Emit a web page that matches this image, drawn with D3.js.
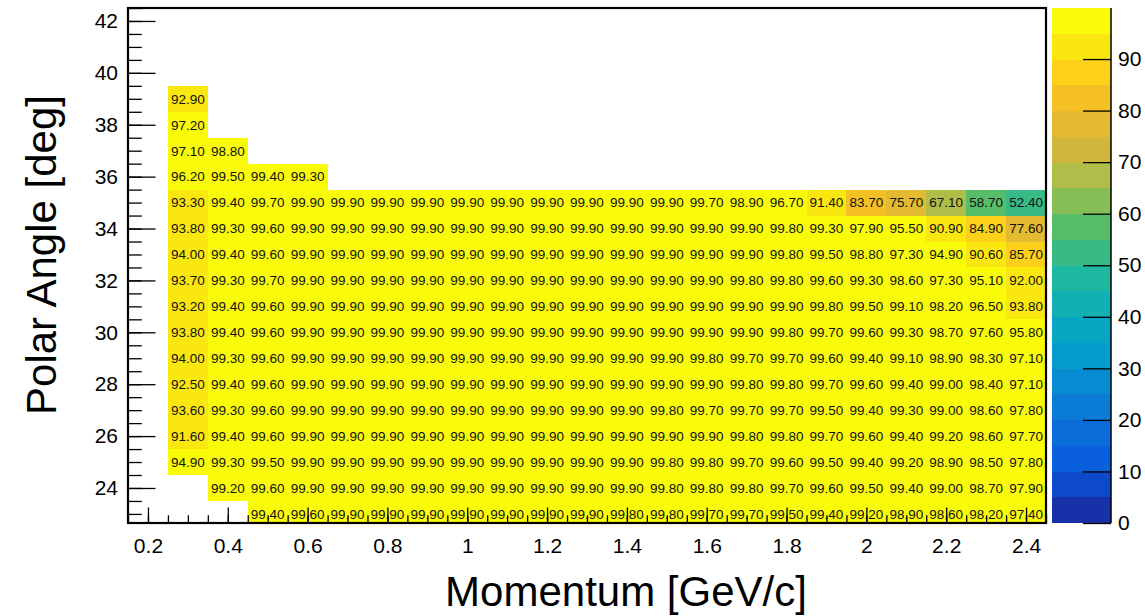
<!DOCTYPE html>
<html>
<head>
<meta charset="utf-8">
<script src="https://cdn.jsdelivr.net/npm/d3@7"></script>
<style>
  body { margin: 0; background: #fff; }
  svg { display: block; }
  text { font-family: "Liberation Sans", Arial, Helvetica, sans-serif; }
</style>
</head>
<body>
<svg id="chart" width="1145" height="616"></svg>
<script>
// Momentum bin centres [GeV/c] (bin width 0.1)
const momentum = [0.3, 0.4, 0.5, 0.6, 0.7, 0.8, 0.9, 1.0, 1.1, 1.2, 1.3,
                  1.4, 1.5, 1.6, 1.7, 1.8, 1.9, 2.0, 2.1, 2.2, 2.3, 2.4];

// Efficiency [%] per polar-angle row, one entry per momentum bin (null = empty bin)
const eff39 = [92.90, null, null, null, null, null, null, null, null, null, null,
               null, null, null, null, null, null, null, null, null, null, null];
const eff38 = [97.20, null, null, null, null, null, null, null, null, null, null,
               null, null, null, null, null, null, null, null, null, null, null];
const eff37 = [97.10, 98.80, null, null, null, null, null, null, null, null, null,
               null, null, null, null, null, null, null, null, null, null, null];
const eff36 = [96.20, 99.50, 99.40, 99.30, null, null, null, null, null, null, null,
               null, null, null, null, null, null, null, null, null, null, null];
const eff35 = [93.30, 99.40, 99.70, 99.90, 99.90, 99.90, 99.90, 99.90, 99.90, 99.90, 99.90,
               99.90, 99.90, 99.70, 98.90, 96.70, 91.40, 83.70, 75.70, 67.10, 58.70, 52.40];
const eff34 = [93.80, 99.30, 99.60, 99.90, 99.90, 99.90, 99.90, 99.90, 99.90, 99.90, 99.90,
               99.90, 99.90, 99.90, 99.90, 99.80, 99.30, 97.90, 95.50, 90.90, 84.90, 77.60];
const eff33 = [94.00, 99.40, 99.60, 99.90, 99.90, 99.90, 99.90, 99.90, 99.90, 99.90, 99.90,
               99.90, 99.90, 99.90, 99.90, 99.80, 99.50, 98.80, 97.30, 94.90, 90.60, 85.70];
const eff32 = [93.70, 99.30, 99.70, 99.90, 99.90, 99.90, 99.90, 99.90, 99.90, 99.90, 99.90,
               99.90, 99.90, 99.90, 99.80, 99.80, 99.60, 99.30, 98.60, 97.30, 95.10, 92.00];
const eff31 = [93.20, 99.40, 99.60, 99.90, 99.90, 99.90, 99.90, 99.90, 99.90, 99.90, 99.90,
               99.90, 99.90, 99.90, 99.90, 99.90, 99.80, 99.50, 99.10, 98.20, 96.50, 93.80];
const eff30 = [93.80, 99.40, 99.60, 99.90, 99.90, 99.90, 99.90, 99.90, 99.90, 99.90, 99.90,
               99.90, 99.90, 99.90, 99.90, 99.80, 99.70, 99.60, 99.30, 98.70, 97.60, 95.80];
const eff29 = [94.00, 99.30, 99.60, 99.90, 99.90, 99.90, 99.90, 99.90, 99.90, 99.90, 99.90,
               99.90, 99.90, 99.80, 99.70, 99.70, 99.60, 99.40, 99.10, 98.90, 98.30, 97.10];
const eff28 = [92.50, 99.40, 99.60, 99.90, 99.90, 99.90, 99.90, 99.90, 99.90, 99.90, 99.90,
               99.90, 99.90, 99.90, 99.80, 99.80, 99.70, 99.60, 99.40, 99.00, 98.40, 97.10];
const eff27 = [93.60, 99.30, 99.60, 99.90, 99.90, 99.90, 99.90, 99.90, 99.90, 99.90, 99.90,
               99.90, 99.80, 99.70, 99.70, 99.70, 99.50, 99.40, 99.30, 99.00, 98.60, 97.80];
const eff26 = [91.60, 99.40, 99.60, 99.90, 99.90, 99.90, 99.90, 99.90, 99.90, 99.90, 99.90,
               99.90, 99.90, 99.90, 99.80, 99.80, 99.70, 99.60, 99.40, 99.20, 98.60, 97.70];
const eff25 = [94.90, 99.30, 99.50, 99.90, 99.90, 99.90, 99.90, 99.90, 99.90, 99.90, 99.90,
               99.90, 99.80, 99.80, 99.70, 99.60, 99.50, 99.40, 99.20, 98.90, 98.50, 97.80];
const eff24 = [null, 99.20, 99.60, 99.90, 99.90, 99.90, 99.90, 99.90, 99.90, 99.90, 99.90,
               99.90, 99.80, 99.80, 99.80, 99.70, 99.60, 99.50, 99.40, 99.00, 98.70, 97.90];
const eff23 = [null, null, 99.40, 99.60, 99.90, 99.90, 99.90, 99.90, 99.90, 99.90, 99.90,
               99.80, 99.80, 99.70, 99.70, 99.50, 99.40, 99.20, 98.90, 98.60, 98.20, 97.40];

// Polar-angle bin centres [deg] (bin width 1) and the matching rows
const angles = [39, 38, 37, 36, 35, 34, 33, 32, 31, 30, 29, 28, 27, 26, 25, 24, 23];
const effRows = [eff39, eff38, eff37, eff36, eff35, eff34, eff33, eff32, eff31,
                 eff30, eff29, eff28, eff27, eff26, eff25, eff24, eff23];

// Axis tick labels
const xTicks = [0.2, 0.4, 0.6, 0.8, 1.0, 1.2, 1.4, 1.6, 1.8, 2.0, 2.2, 2.4];
const yTicks = [24, 26, 28, 30, 32, 34, 36, 38, 40, 42];
const zTicks = [0, 10, 20, 30, 40, 50, 60, 70, 80, 90];

// Bird colour palette (gradient stops)
const birdStops = [0.0000, 0.1250, 0.2500, 0.3750, 0.5000, 0.6250, 0.7500, 0.8750, 1.0000];
const birdR = [0.2082, 0.0592, 0.0780, 0.0232, 0.1802, 0.5301, 0.8186, 0.9956, 0.9764];
const birdG = [0.1664, 0.3599, 0.5041, 0.6419, 0.7178, 0.7492, 0.7328, 0.7862, 0.9832];
const birdB = [0.5293, 0.8684, 0.8385, 0.7914, 0.6425, 0.4662, 0.3499, 0.1968, 0.0539];

const xBinW = 0.1, yBinW = 1;
const zMin = 0, zMax = 99.9, nLevels = 20, nColors = 255;

const svg = d3.select("#chart");
const frame = { left: 128, right: 1046, top: 8, bottom: 523 };

const x = d3.scaleLinear().domain([0.15, 2.45]).range([frame.left, frame.right]);
const y = d3.scaleLinear().domain([22.65, 42.5]).range([frame.bottom, frame.top]);
const z = d3.scaleLinear().domain([zMin, zMax]).range([frame.bottom, frame.top]);

const bird = d3.scaleLinear()
  .domain(birdStops)
  .range(birdStops.map((_, i) => d3.rgb(birdR[i] * 255, birdG[i] * 255, birdB[i] * 255)))
  .interpolate(d3.interpolateRgb);

// Deepen the palette: pull the weakest channel down while keeping the strongest
function vivid(c, a) {
  const rgb = d3.rgb(c);
  const ch = [rgb.r, rgb.g, rgb.b];
  const mx = Math.max(...ch), mn = Math.min(...ch);
  const k = a * mn;
  const s = mx / (mx - k);
  return d3.rgb(...ch.map(v => (v - k) * s)).formatHex();
}

const levelOf = v => Math.max(0, Math.min(nLevels - 1, Math.floor(0.01 + (v - zMin) * nLevels / (zMax - zMin))));
const levelColor = k => vivid(bird(Math.floor((k + 0.99) * nColors / nLevels) / (nColors - 1)), 0.45);

// Flatten bins
const bins = [];
angles.forEach((a, r) => {
  effRows[r].forEach((v, c) => {
    if (v !== null) bins.push({ p: momentum[c], a: a, v: v });
  });
});

svg.append("defs").append("clipPath").attr("id", "frameClip")
  .append("rect")
  .attr("x", frame.left).attr("y", frame.top)
  .attr("width", frame.right - frame.left).attr("height", frame.bottom - frame.top);

const plot = svg.append("g").attr("clip-path", "url(#frameClip)");

// Coloured cells
plot.selectAll("rect.cell").data(bins).join("rect")
  .attr("class", "cell")
  .attr("x", d => x(d.p - xBinW / 2))
  .attr("y", d => y(d.a + yBinW / 2))
  .attr("width", d => x(d.p + xBinW / 2) - x(d.p - xBinW / 2))
  .attr("height", d => y(d.a - yBinW / 2) - y(d.a + yBinW / 2))
  .attr("fill", d => levelColor(levelOf(d.v)))
  .attr("shape-rendering", "crispEdges");

// Cell values
plot.selectAll("text.val").data(bins).join("text")
  .attr("class", "val")
  .attr("x", d => x(d.p))
  .attr("y", d => y(d.a))
  .attr("dy", "0.36em")
  .attr("text-anchor", "middle")
  .attr("font-size", 13.5)
  .attr("fill", "#111")
  .text(d => d.v.toFixed(2));

// Axes with inward ticks
function styleAxis(g) {
  g.select(".domain").remove();
  g.selectAll(".tick line").attr("stroke", "#000").attr("stroke-width", 1.3);
  g.selectAll(".tick text").attr("fill", "#000").attr("font-size", 21)
    .attr("font-family", "Liberation Sans, Arial, Helvetica, sans-serif");
}

const xMinor = d3.range(0.15, 2.451, 0.05).map(v => +v.toFixed(2));
const yMinor = d3.range(23, 42.51, 0.5);

svg.append("g").attr("transform", `translate(0,${frame.bottom})`)
  .call(d3.axisBottom(x).tickValues(xMinor).tickSize(-7.7).tickFormat(""))
  .call(styleAxis);
svg.append("g").attr("transform", `translate(0,${frame.bottom})`)
  .call(d3.axisBottom(x).tickValues(xTicks).tickSize(-15.5).tickPadding(15)
    .tickFormat(d3.format("~g")))
  .call(styleAxis);

svg.append("g").attr("transform", `translate(${frame.left},0)`)
  .call(d3.axisLeft(y).tickValues(yMinor).tickSize(-13.8).tickFormat(""))
  .call(styleAxis);
svg.append("g").attr("transform", `translate(${frame.left},0)`)
  .call(d3.axisLeft(y).tickValues(yTicks).tickSize(-27.5).tickPadding(10)
    .tickFormat(d3.format("d")))
  .call(styleAxis);

// Frame
svg.append("rect")
  .attr("x", frame.left).attr("y", frame.top)
  .attr("width", frame.right - frame.left).attr("height", frame.bottom - frame.top)
  .attr("fill", "none").attr("stroke", "#000").attr("stroke-width", 2.2);

// Axis titles
svg.append("text")
  .attr("x", 626).attr("y", 606)
  .attr("text-anchor", "middle").attr("font-size", 42)
  .text("Momentum [GeV/c]");
svg.append("text")
  .attr("transform", "translate(56,255) rotate(-90)")
  .attr("text-anchor", "middle").attr("font-size", 42)
  .text("Polar Angle [deg]");

// Colour scale bar
const bar = { left: 1052, right: 1111 };
const dz = (zMax - zMin) / nLevels;
svg.append("g").selectAll("rect").data(d3.range(nLevels)).join("rect")
  .attr("x", bar.left)
  .attr("width", bar.right - bar.left)
  .attr("y", k => z(zMin + (k + 1) * dz))
  .attr("height", k => z(zMin + k * dz) - z(zMin + (k + 1) * dz))
  .attr("fill", k => levelColor(k))
  .attr("shape-rendering", "crispEdges");

svg.append("g").attr("transform", `translate(${bar.right},0)`)
  .call(d3.axisRight(z).tickValues(zTicks).tickSize(-28).tickPadding(7))
  .call(g => {
    g.select(".domain").attr("stroke", "#000").attr("stroke-width", 1.5)
      .attr("d", `M0,${frame.top}V${frame.bottom}`);
    g.selectAll(".tick line").attr("stroke", "#000").attr("stroke-width", 1.3);
    g.selectAll(".tick text").attr("fill", "#000").attr("font-size", 21)
      .attr("font-family", "Liberation Sans, Arial, Helvetica, sans-serif");
  });
</script>
</body>
</html>
